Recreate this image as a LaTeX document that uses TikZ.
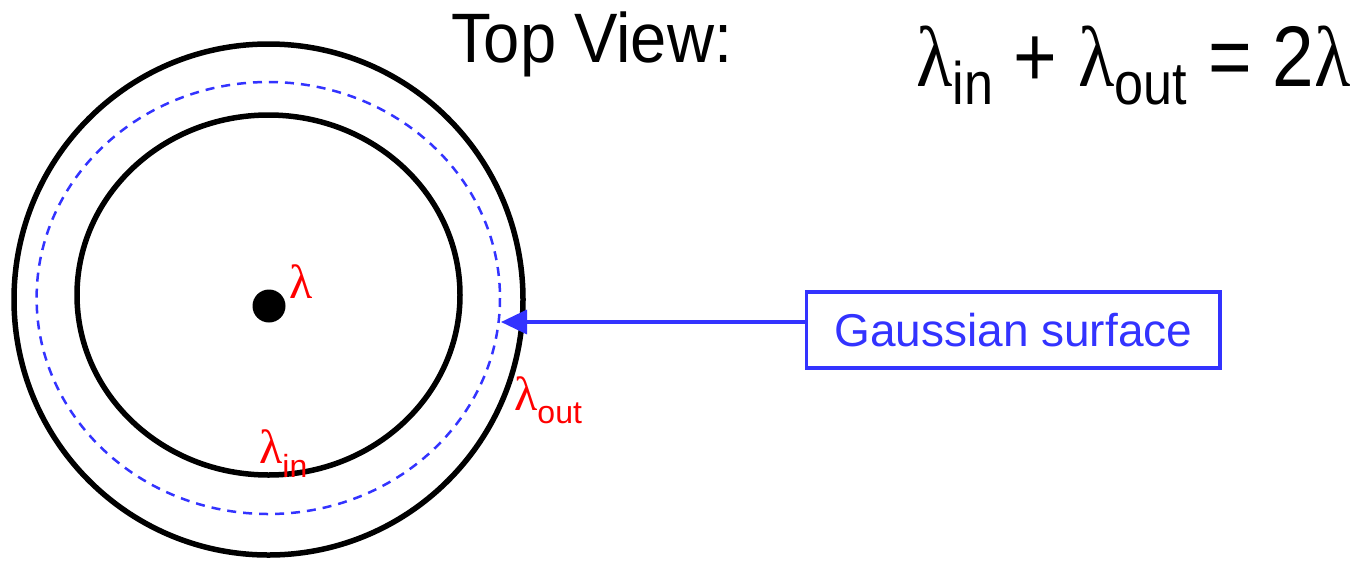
\documentclass[tikz,border=0pt]{standalone}
\usepackage{fontspec}
\usetikzlibrary{arrows.meta}
\setmainfont{Liberation Sans}
\newfontfamily\narrowfont[FakeStretch=0.93]{Liberation Sans}
\newfontfamily\eqfont[FakeStretch=0.87]{Liberation Sans}
\newfontfamily\lamfont{Liberation Serif}
\newfontfamily\eqlam[FakeStretch=0.87]{Liberation Serif}
\definecolor{gblue}{RGB}{51,51,255}
\newcommand{\fsz}[1]{\fontsize{#1}{#1}\selectfont}
\newcommand{\lsub}[3]{\raisebox{-#2pt}{\fsz{#1}#3}}
\tikzset{
  ring/.style={draw=black, line width=5.5pt},
  gauss/.style={draw=gblue, line width=2.5pt, dash pattern=on 9pt off 7pt},
  gbox/.style={draw=gblue, line width=3.5pt, text=gblue, inner sep=0pt,
    minimum width=413.5pt, minimum height=76pt, font=\fsz{46}},
  garrow/.style={draw=gblue, line width=3.5pt, -{Triangle[length=26pt,width=24pt]}},
  lab/.style={text=red, inner sep=0pt, font=\lamfont\fsz{48}},
  dotnode/.style={circle, fill=black, draw=none, minimum size=33pt, inner sep=0pt},
}
\begin{document}
\begin{tikzpicture}[x=1pt,y=-1pt]
\useasboundingbox (0,0) rectangle (1360,563);
\draw[ring] (268.5,299.5) ellipse [x radius=254.5, y radius=255.5];
\draw[ring] (268.5,295) ellipse [x radius=191.5, y radius=180];
\draw[gauss] (268.3,298) ellipse [x radius=231.7, y radius=216];
\node[dotnode] (dot) at (269,306) {};
\node[lab, anchor=base west] (lam) at (289,298) {λ};
\node[lab, anchor=base west] (lamin) at (259,463) {λ\lsub{32}{14}{\rmfamily in}};
\node[lab, anchor=base west] (lamout) at (514,410) {λ\lsub{32}{13}{\rmfamily out}};
\node[gbox] (gs) at (1013.25,330) {Gaussian surface};
\coordinate (tip) at (501,322);
\draw[garrow] (gs.west |- tip) -- (tip);
\node[anchor=base west, inner sep=0pt, font=\narrowfont\fsz{70}] (title) at (451,62) {Top View:};
\node[anchor=base west, inner sep=0pt, font=\eqfont\fsz{86}] (eq) at (916,86)
  {{\eqlam λ}\lsub{60}{18}{\eqfont in} + {\eqlam λ}\lsub{60}{18}{\eqfont out} = 2{\eqlam λ}};
\end{tikzpicture}
\end{document}
